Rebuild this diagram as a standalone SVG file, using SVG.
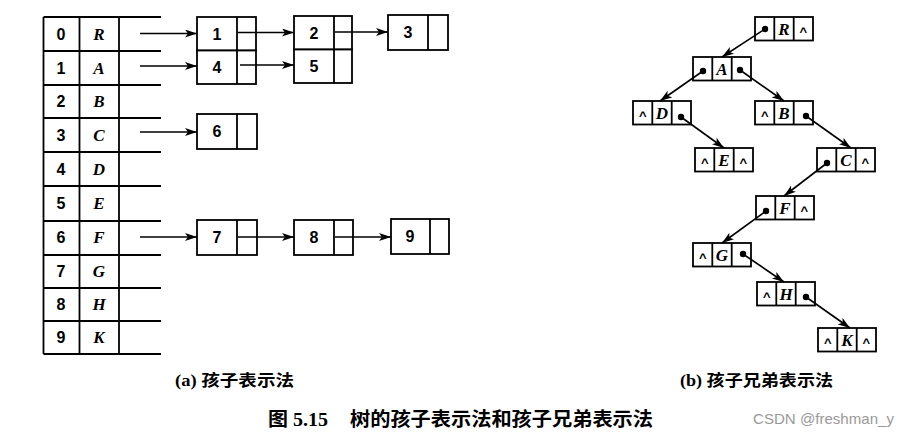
<svg xmlns="http://www.w3.org/2000/svg" width="909" height="435" viewBox="0 0 909 435">
<style>
.ln{stroke:#000;stroke-width:1.8;fill:none}
.bx{stroke:#000;stroke-width:1.8;fill:#fff}
.ar{stroke:#000;stroke-width:1.6;fill:none;marker-end:url(#ah)}
.num{font-family:"Liberation Sans",sans-serif;font-weight:bold;font-size:16px;text-anchor:middle;fill:#000}
.let{font-family:"Liberation Serif",serif;font-style:italic;font-weight:bold;font-size:17px;text-anchor:middle;fill:#000}
.car{font-family:"Liberation Sans",sans-serif;font-size:13px;font-weight:bold;text-anchor:middle;fill:#000}
.cap{font-family:"Liberation Serif","Noto Sans CJK SC",serif;font-weight:bold;fill:#000}
.dot{fill:#000}
</style>
<defs>
<marker id="ah" markerWidth="13" markerHeight="9" refX="12" refY="4" orient="auto" markerUnits="userSpaceOnUse">
<path d="M0,0 L12,4 L0,8 L3,4 z" fill="#000"/>
</marker>
</defs>
<rect width="909" height="435" fill="#fff"/>

<!-- (a) header table -->
<g id="table">
<line class="ln" x1="43.5" y1="17" x2="43.5" y2="354"/>
<line class="ln" x1="79.5" y1="17" x2="79.5" y2="354"/>
<line class="ln" x1="119" y1="17" x2="119" y2="354"/>
<line class="ln" x1="43.5" y1="17" x2="161" y2="17"/>
<line class="ln" x1="43.5" y1="51" x2="161" y2="51"/>
<line class="ln" x1="43.5" y1="85" x2="161" y2="85"/>
<line class="ln" x1="43.5" y1="118" x2="161" y2="118"/>
<line class="ln" x1="43.5" y1="152" x2="161" y2="152"/>
<line class="ln" x1="43.5" y1="186" x2="161" y2="186"/>
<line class="ln" x1="43.5" y1="221" x2="161" y2="221"/>
<line class="ln" x1="43.5" y1="255" x2="161" y2="255"/>
<line class="ln" x1="43.5" y1="288" x2="161" y2="288"/>
<line class="ln" x1="43.5" y1="321" x2="161" y2="321"/>
<line class="ln" x1="43.5" y1="354" x2="161" y2="354"/>
<text class="num" x="61" y="40">0</text><text class="let" x="99" y="40">R</text>
<text class="num" x="61" y="74">1</text><text class="let" x="99" y="74">A</text>
<text class="num" x="61" y="107">2</text><text class="let" x="99" y="107">B</text>
<text class="num" x="61" y="141">3</text><text class="let" x="99" y="141">C</text>
<text class="num" x="61" y="175">4</text><text class="let" x="99" y="175">D</text>
<text class="num" x="61" y="209">5</text><text class="let" x="99" y="209">E</text>
<text class="num" x="61" y="243">6</text><text class="let" x="99" y="243">F</text>
<text class="num" x="61" y="277">7</text><text class="let" x="99" y="277">G</text>
<text class="num" x="61" y="310">8</text><text class="let" x="99" y="310">H</text>
<text class="num" x="61" y="343">9</text><text class="let" x="99" y="343">K</text>
</g>

<!-- (a) child list nodes -->
<g id="n1"><rect class="bx" x="197" y="17" width="59" height="33.5"/><line class="ln" x1="237" y1="17" x2="237" y2="50.5"/><text class="num" x="217" y="40">1</text></g>
<g id="n4"><rect class="bx" x="197" y="50.5" width="59" height="33.5"/><line class="ln" x1="237" y1="50.5" x2="237" y2="84"/><text class="num" x="217" y="73">4</text></g>
<g id="n2"><rect class="bx" x="294" y="16" width="58" height="33.5"/><line class="ln" x1="334" y1="16" x2="334" y2="49.5"/><text class="num" x="314" y="39">2</text></g>
<g id="n5"><rect class="bx" x="294" y="49.5" width="58" height="33.5"/><line class="ln" x1="334" y1="49.5" x2="334" y2="83"/><text class="num" x="314" y="72">5</text></g>
<g id="n3"><rect class="bx" x="388" y="15" width="60" height="35"/><line class="ln" x1="428" y1="15" x2="428" y2="50"/><text class="num" x="408" y="38">3</text></g>
<g id="n6"><rect class="bx" x="197" y="114" width="60" height="35"/><line class="ln" x1="237" y1="114" x2="237" y2="149"/><text class="num" x="217" y="137">6</text></g>
<g id="n7"><rect class="bx" x="197" y="220" width="60" height="35"/><line class="ln" x1="237" y1="220" x2="237" y2="255"/><text class="num" x="217" y="243">7</text></g>
<g id="n8"><rect class="bx" x="294" y="220" width="59" height="35"/><line class="ln" x1="334" y1="220" x2="334" y2="255"/><text class="num" x="314" y="243">8</text></g>
<g id="n9"><rect class="bx" x="391" y="219" width="58" height="35"/><line class="ln" x1="430" y1="219" x2="430" y2="254"/><text class="num" x="410" y="242">9</text></g>

<!-- (b) child-sibling nodes -->
<g id="bR" transform="translate(755,17)"><rect class="bx" width="58" height="23.5"/><line class="ln" x1="19.3" y1="0" x2="19.3" y2="23.5"/><line class="ln" x1="38.7" y1="0" x2="38.7" y2="23.5"/><text class="let" x="29" y="18">R</text><text class="car" x="48.3" y="19">^</text></g>
<g id="bA" transform="translate(693,57)"><rect class="bx" width="58" height="23.5"/><line class="ln" x1="19.3" y1="0" x2="19.3" y2="23.5"/><line class="ln" x1="38.7" y1="0" x2="38.7" y2="23.5"/><text class="let" x="29" y="18">A</text></g>
<g id="bD" transform="translate(633,101)"><rect class="bx" width="58" height="23.5"/><line class="ln" x1="19.3" y1="0" x2="19.3" y2="23.5"/><line class="ln" x1="38.7" y1="0" x2="38.7" y2="23.5"/><text class="car" x="9.7" y="19">^</text><text class="let" x="29" y="18">D</text></g>
<g id="bB" transform="translate(755,101)"><rect class="bx" width="58" height="23.5"/><line class="ln" x1="19.3" y1="0" x2="19.3" y2="23.5"/><line class="ln" x1="38.7" y1="0" x2="38.7" y2="23.5"/><text class="car" x="9.7" y="19">^</text><text class="let" x="29" y="18">B</text></g>
<g id="bE" transform="translate(695,148)"><rect class="bx" width="58" height="23.5"/><line class="ln" x1="19.3" y1="0" x2="19.3" y2="23.5"/><line class="ln" x1="38.7" y1="0" x2="38.7" y2="23.5"/><text class="car" x="9.7" y="19">^</text><text class="let" x="29" y="18">E</text><text class="car" x="48.3" y="19">^</text></g>
<g id="bC" transform="translate(817,148)"><rect class="bx" width="58" height="23.5"/><line class="ln" x1="19.3" y1="0" x2="19.3" y2="23.5"/><line class="ln" x1="38.7" y1="0" x2="38.7" y2="23.5"/><text class="let" x="29" y="18">C</text><text class="car" x="48.3" y="19">^</text></g>
<g id="bF" transform="translate(756,196)"><rect class="bx" width="58" height="23.5"/><line class="ln" x1="19.3" y1="0" x2="19.3" y2="23.5"/><line class="ln" x1="38.7" y1="0" x2="38.7" y2="23.5"/><text class="let" x="29" y="18">F</text><text class="car" x="48.3" y="19">^</text></g>
<g id="bG" transform="translate(693,243)"><rect class="bx" width="58" height="23.5"/><line class="ln" x1="19.3" y1="0" x2="19.3" y2="23.5"/><line class="ln" x1="38.7" y1="0" x2="38.7" y2="23.5"/><text class="car" x="9.7" y="19">^</text><text class="let" x="29" y="18">G</text></g>
<g id="bH" transform="translate(757,282)"><rect class="bx" width="58" height="23.5"/><line class="ln" x1="19.3" y1="0" x2="19.3" y2="23.5"/><line class="ln" x1="38.7" y1="0" x2="38.7" y2="23.5"/><text class="car" x="9.7" y="19">^</text><text class="let" x="29" y="18">H</text></g>
<g id="bK" transform="translate(818,328)"><rect class="bx" width="58" height="23.5"/><line class="ln" x1="19.3" y1="0" x2="19.3" y2="23.5"/><line class="ln" x1="38.7" y1="0" x2="38.7" y2="23.5"/><text class="car" x="9.7" y="19">^</text><text class="let" x="29" y="18">K</text><text class="car" x="48.3" y="19">^</text></g>

<!-- connectors -->
<g id="connectors">
<line class="ar" x1="140" y1="33.5" x2="197" y2="33.5"/>
<line class="ar" x1="140" y1="66" x2="197" y2="66"/>
<line class="ar" x1="140" y1="132" x2="197" y2="132"/>
<line class="ar" x1="140" y1="237" x2="197" y2="237"/>
<line class="ar" x1="238" y1="32.5" x2="294" y2="32.5"/>
<line class="ar" x1="240" y1="65" x2="294" y2="65"/>
<line class="ar" x1="335" y1="32" x2="388" y2="32"/>
<line class="ar" x1="238" y1="237" x2="294" y2="237"/>
<line class="ar" x1="335" y1="237" x2="391" y2="237"/>

<circle class="dot" cx="765" cy="29" r="3.2"/><line class="ar" x1="765" y1="29" x2="722" y2="57"/>
<circle class="dot" cx="703" cy="71" r="3.2"/><line class="ar" x1="703" y1="71" x2="660" y2="101"/>
<circle class="dot" cx="740" cy="70" r="3.2"/><line class="ar" x1="740" y1="70" x2="784" y2="101"/>
<circle class="dot" cx="681" cy="117" r="3.2"/><line class="ar" x1="681" y1="117" x2="724" y2="148"/>
<circle class="dot" cx="806" cy="116" r="3.2"/><line class="ar" x1="806" y1="116" x2="851" y2="148"/>
<circle class="dot" cx="827" cy="163" r="3.2"/><line class="ar" x1="827" y1="163" x2="784" y2="196"/>
<circle class="dot" cx="766" cy="211" r="3.2"/><line class="ar" x1="766" y1="211" x2="722" y2="243"/>
<circle class="dot" cx="743" cy="254" r="3.2"/><line class="ar" x1="743" y1="254" x2="784" y2="282"/>
<circle class="dot" cx="806" cy="297" r="3.2"/><line class="ar" x1="806" y1="297" x2="850" y2="328"/>
</g>

<!-- captions -->
<g id="captions">
<text class="cap" x="175" y="386" font-size="16" textLength="119" lengthAdjust="spacingAndGlyphs">(a) 孩子表示法</text>
<text class="cap" x="680" y="386" font-size="16" textLength="153" lengthAdjust="spacingAndGlyphs">(b) 孩子兄弟表示法</text>
<text class="cap" x="268" y="426" font-size="19" textLength="60" lengthAdjust="spacingAndGlyphs">图 5.15</text>
<text class="cap" x="350" y="426" font-size="19" textLength="303" lengthAdjust="spacingAndGlyphs">树的孩子表示法和孩子兄弟表示法</text>
<text x="753" y="424" font-family="'Liberation Sans',sans-serif" font-size="15" fill="#999" textLength="141" lengthAdjust="spacingAndGlyphs">CSDN @freshman_y</text>
</g>
</svg>
